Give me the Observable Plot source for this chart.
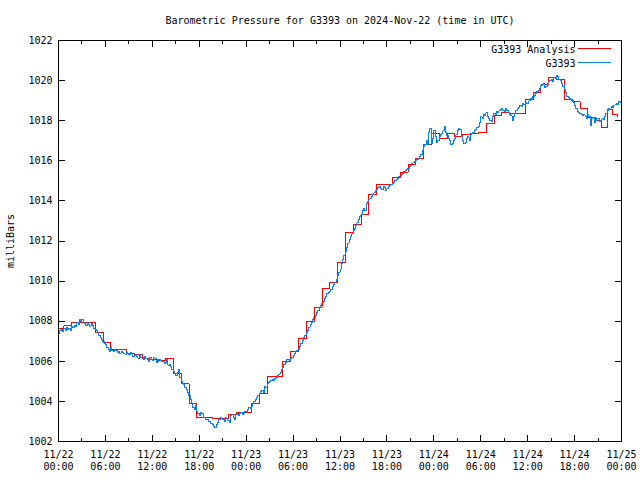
<!DOCTYPE html>
<html>
<head>
<meta charset="utf-8">
<script src="https://cdn.jsdelivr.net/npm/d3@7"></script>
<script src="https://cdn.jsdelivr.net/npm/@observablehq/plot@0.6"></script>
<style>
  body { margin: 0; background: #fff; }
  svg { shape-rendering: crispEdges; }
</style>
</head>
<body>
<div id="chart"></div>
<script>
// ---- data ----
const titleText = "Barometric Pressure for G3393 on 2024-Nov-22 (time in UTC)";
const yLabel = "milliBars";
const seriesNames = ["G3393 Analysis", "G3393"];
const seriesColors = ["#ff0000", "#0a80f0"];

// Analysis (red): step start times in hours after 2024-11-22 00:00 UTC, and values
const redHours = [0, 0.7, 1.7, 2.7, 3.7, 4.7, 5.7, 6.7, 7.7, 8.7, 9.7, 10.7, 11.7, 12.7, 13.7, 14.7, 15.7, 16.7, 17.7, 18.7,
  19.7, 20.7, 21.7, 22.7, 23.7, 24.7, 25.7, 26.7, 27.7, 28.7, 29.7, 30.7, 31.7, 32.7, 33.7, 34.7, 35.7, 36.7, 37.7, 38.7,
  39.7, 40.7, 41.7, 42.7, 43.7, 44.7, 45.7, 46.7, 47.7, 48.7, 49.7, 50.7, 51.7, 52.7, 53.7, 54.7, 55.7, 56.7, 57.7, 58.7,
  59.7, 60.7, 61.7, 62.7, 63.7, 64.7, 65.7, 66.7, 67.7, 68.7, 69.5, 70.2, 70.8, 71.5];
const redValues = [1007.65, 1007.78, 1007.95, 1007.95, 1007.95, 1007.45, 1006.95, 1006.57, 1006.6, 1006.4, 1006.35, 1006.15, 1006.08, 1006.05, 1006.15, 1005.4, 1004.88, 1003.88, 1003.21, 1003.2,
  1003.15, 1003.15, 1003.33, 1003.45, 1003.45, 1003.9, 1004.4, 1005.24, 1005.24, 1005.98, 1006.48, 1007.12, 1007.98, 1008.7, 1009.65, 1009.94, 1010.95, 1012.42, 1012.82, 1013.32,
  1014.31, 1014.8, 1014.8, 1015.15, 1015.43, 1015.83, 1016.12, 1016.8, 1017.35, 1017.1, 1017.35, 1017.2, 1017.3, 1017.35, 1017.43, 1017.85, 1018.26, 1018.42, 1018.35, 1018.34,
  1019.05, 1019.39, 1019.79, 1020.17, 1020.05, 1019.06, 1018.95, 1018.6, 1018.18, 1018.0, 1017.65, 1018.55, 1018.3, 1018.2];

// Observations (blue): one value every 10 minutes from 2024-11-22 00:00 UTC (6 per row = 1 hour)
const blueValues = [
  1007.4, 1007.55, 1007.6, 1007.5, 1007.65, 1007.55,
  1007.7, 1007.6, 1007.65, 1007.55, 1007.75, 1007.7,
  1007.8, 1007.75, 1007.95, 1007.85, 1008.1, 1008.0,
  1008.1, 1007.95, 1007.9, 1007.8, 1007.95, 1007.85,
  1007.75, 1007.9, 1007.8, 1007.65, 1007.6, 1007.55,
  1007.45, 1007.3, 1007.2, 1007.1, 1007.0, 1006.9,
  1006.85, 1006.7, 1006.6, 1006.5, 1006.7, 1006.55,
  1006.5, 1006.6, 1006.55, 1006.45, 1006.5, 1006.4,
  1006.5, 1006.45, 1006.4, 1006.35, 1006.45, 1006.4,
  1006.35, 1006.45, 1006.4, 1006.25, 1006.3, 1006.35,
  1006.25, 1006.15, 1006.35, 1006.2, 1006.2, 1006.1,
  1006.25, 1006.15, 1006.1, 1006.0, 1006.2, 1006.1,
  1006.05, 1006.2, 1006.15, 1005.95, 1006.0, 1006.1,
  1006.05, 1006.0, 1006.0, 1005.9, 1005.95, 1006.1,
  1005.8, 1005.85, 1005.75, 1005.6, 1005.5, 1005.4,
  1005.3, 1005.45, 1005.6, 1005.2, 1005.0, 1004.9,
  1004.85, 1004.7, 1004.6, 1004.45, 1004.3, 1004.1,
  1003.9, 1003.7, 1003.6, 1003.8, 1003.5, 1003.4,
  1003.3, 1003.45, 1003.4, 1003.2, 1003.2, 1003.1,
  1003.1, 1003.0, 1003.0, 1002.9, 1002.85, 1002.75,
  1002.7, 1002.85, 1002.95, 1003.1, 1003.2, 1003.15,
  1003.1, 1003.0, 1003.2, 1003.15, 1003.05, 1002.95,
  1003.3, 1003.35, 1003.2, 1003.1, 1003.35, 1003.4,
  1003.3, 1003.4, 1003.45, 1003.35, 1003.4, 1003.5,
  1003.5, 1003.6, 1003.7, 1003.65, 1003.75, 1003.9,
  1004.0, 1004.1, 1004.2, 1004.3, 1004.4, 1004.5,
  1004.55, 1004.45, 1004.75, 1004.7, 1004.9, 1004.95,
  1005.0, 1005.05, 1005.1, 1005.05, 1005.15, 1005.2,
  1005.3, 1005.35, 1005.45, 1005.6, 1005.7, 1005.85,
  1005.95, 1006.1, 1006.1, 1006.05, 1006.15, 1006.2,
  1006.3, 1006.4, 1006.5, 1006.55, 1006.6, 1006.75,
  1006.9, 1007.05, 1007.2, 1007.3, 1007.45, 1007.55,
  1007.7, 1007.85, 1007.95, 1008.1, 1008.2, 1008.3,
  1008.45, 1008.55, 1008.7, 1008.8, 1008.9, 1009.0,
  1009.15, 1009.25, 1009.4, 1009.45, 1009.5, 1009.6,
  1009.75, 1009.85, 1009.95, 1010.1, 1010.3, 1010.45,
  1010.6, 1010.9, 1011.1, 1011.3, 1011.5, 1011.7,
  1011.9, 1012.05, 1012.2, 1012.35, 1012.5, 1012.6,
  1012.75, 1012.9, 1013.05, 1013.2, 1013.3, 1013.5,
  1013.6, 1013.5, 1013.85, 1013.95, 1014.05, 1014.1,
  1014.2, 1014.3, 1014.4, 1014.5, 1014.55, 1014.65,
  1014.7, 1014.6, 1014.55, 1014.7, 1014.65, 1014.5,
  1014.6, 1014.7, 1014.75, 1014.8, 1014.85, 1014.9,
  1015.0, 1015.05, 1015.1, 1015.2, 1015.25, 1015.3,
  1015.35, 1015.45, 1015.5, 1015.55, 1015.6, 1015.7,
  1015.75, 1015.85, 1015.9, 1015.95, 1016.0, 1016.05,
  1016.1, 1016.2, 1016.3, 1016.5, 1016.7, 1016.8,
  1017.0, 1016.8, 1017.4, 1017.6, 1016.85, 1017.1,
  1017.5, 1017.2, 1016.9, 1017.0, 1017.2, 1017.3,
  1017.35, 1017.5, 1017.7, 1017.4, 1017.25, 1017.1,
  1017.0, 1016.8, 1016.85, 1017.0, 1017.1, 1017.3,
  1017.5, 1017.6, 1017.55, 1017.2, 1017.0, 1016.85,
  1016.9, 1017.1, 1017.2, 1017.0, 1017.3, 1017.35,
  1017.4, 1017.5, 1017.55, 1017.65, 1017.7, 1017.9,
  1018.2, 1018.1, 1018.3, 1018.25, 1018.4, 1018.2,
  1018.1, 1018.0, 1017.95, 1018.2, 1018.35, 1018.3,
  1018.45, 1018.4, 1018.5, 1018.55, 1018.6, 1018.5,
  1018.45, 1018.6, 1018.5, 1018.4, 1018.3, 1018.25,
  1018.0, 1018.2, 1018.35, 1018.5, 1018.6, 1018.65,
  1018.75, 1018.7, 1018.85, 1018.8, 1018.9, 1018.85,
  1018.85, 1019.0, 1019.1, 1019.05, 1019.2, 1019.25,
  1019.35, 1019.45, 1019.5, 1019.6, 1019.75, 1019.8,
  1019.85, 1019.65, 1019.7, 1019.85, 1019.95, 1020.0,
  1020.05, 1019.95, 1020.15, 1020.1, 1020.25, 1020.2,
  1020.05, 1020.0, 1019.85, 1019.7, 1019.55, 1019.4,
  1019.2, 1019.15, 1019.1, 1019.05, 1019.0, 1018.9,
  1018.75, 1018.6, 1018.45, 1018.4, 1018.35, 1018.3,
  1018.25, 1018.3, 1018.2, 1018.1, 1018.3, 1018.2,
  1017.75, 1018.1, 1018.15, 1017.9, 1018.0, 1018.1,
  1018.1, 1017.95, 1018.0, 1018.1, 1018.05, 1018.2,
  1018.35, 1018.5, 1018.6, 1018.55, 1018.7, 1018.65,
  1018.75, 1018.8, 1018.85, 1018.8, 1018.95, 1018.9,
  1018.9
];

const yTicks = [1002, 1004, 1006, 1008, 1010, 1012, 1014, 1016, 1018, 1020, 1022];
const xStart = "2024-11-22T00:00:00Z";
const xEnd = "2024-11-25T00:00:00Z";

// ---- build ----
const t0 = new Date(xStart).getTime();
const red = redHours.map((h, i) => ({t: new Date(t0 + h * 3600000), v: redValues[i]}));
const blue = blueValues.map((v, i) => ({t: new Date(t0 + i * 10 * 60000), v}));
const domainX = [new Date(xStart), new Date(xEnd)];
const majorX = d3.utcHour.every(6).range(domainX[0], new Date(domainX[1].getTime() + 1));
const minorX = d3.utcHour.every(3).range(domainX[0], new Date(domainX[1].getTime() + 1));
const fmt = d3.utcFormat("%m/%d\n%H:%M");
const font = "DejaVu Sans Mono, Liberation Mono, monospace";
const noHead = {r: 0, stroke: "black", strokeWidth: 1, anchor: "start"};

const chart = Plot.plot({
  width: 640,
  height: 480,
  marginLeft: 58,
  marginRight: 19,
  marginTop: 40,
  marginBottom: 39,
  style: {fontFamily: font, fontSize: "10px", color: "black", background: "white"},
  x: {type: "utc", domain: domainX},
  y: {domain: [1002, 1022]},
  marks: [
    Plot.line(red, {x: "t", y: "v", curve: "step-after", stroke: seriesColors[0], strokeWidth: 1}),
    Plot.line(blue, {x: "t", y: "v", curve: "step-after", stroke: seriesColors[1], strokeWidth: 1}),
    Plot.frame({stroke: "black"}),
    // inward ticks
    Plot.vector(majorX, {x: d => d, frameAnchor: "bottom", rotate: 0, length: 6, ...noHead}),
    Plot.vector(majorX, {x: d => d, frameAnchor: "top", rotate: 180, length: 6, ...noHead}),
    Plot.vector(minorX, {x: d => d, frameAnchor: "bottom", rotate: 0, length: 3, ...noHead}),
    Plot.vector(minorX, {x: d => d, frameAnchor: "top", rotate: 180, length: 3, ...noHead}),
    Plot.vector(yTicks, {y: d => d, frameAnchor: "left", rotate: 90, length: 6, ...noHead}),
    Plot.vector(yTicks, {y: d => d, frameAnchor: "right", rotate: -90, length: 6, ...noHead}),
    Plot.axisY({ticks: yTicks, tickSize: 0, tickPadding: 6, tickFormat: d => String(d),
      label: yLabel, labelAnchor: "center", labelOffset: 52, labelArrow: false, fontSize: 10}),
    Plot.axisX({ticks: majorX, tickSize: 0, tickPadding: 8, tickFormat: fmt, label: null,
      lineHeight: 1.2, fontSize: 10}),
    // title
    Plot.text([titleText], {frameAnchor: "top", dy: -24, fontSize: 10}),
    // legend
    Plot.text([seriesNames[0]], {frameAnchor: "top-right", dx: -46, dy: 5, textAnchor: "end", fontSize: 10}),
    Plot.text([seriesNames[1]], {frameAnchor: "top-right", dx: -46, dy: 19, textAnchor: "end", fontSize: 10}),
    Plot.vector([0], {frameAnchor: "top-right", dx: -11, dy: 8, rotate: -90, length: 32, anchor: "start", r: 0, stroke: seriesColors[0]}),
    Plot.vector([0], {frameAnchor: "top-right", dx: -11, dy: 22, rotate: -90, length: 32, anchor: "start", r: 0, stroke: seriesColors[1]})
  ]
});
document.getElementById("chart").appendChild(chart);
</script>
</body>
</html>
